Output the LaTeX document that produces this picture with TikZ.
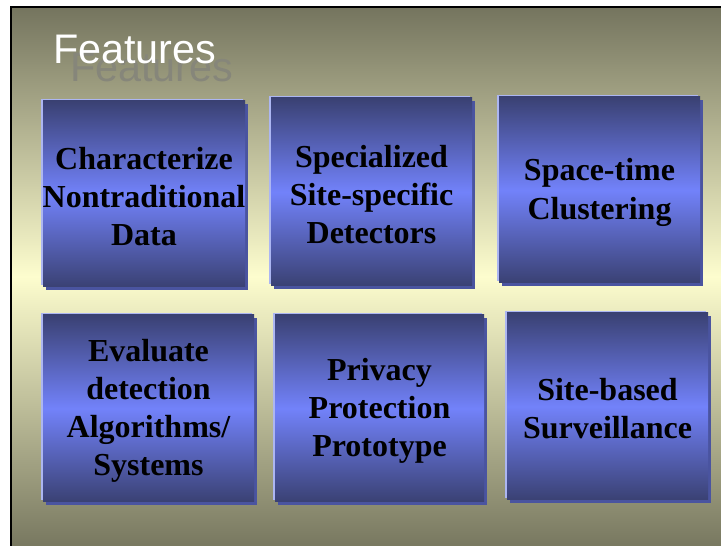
\documentclass[tikz,border=0pt]{standalone}
\usepackage{fontspec}
\setmainfont{Liberation Serif}
\newfontfamily\titlefont{Liberation Sans}
\usetikzlibrary{shadows}
\definecolor{olivedark}{RGB}{116,116,94}
\definecolor{olivebot}{RGB}{120,120,96}
\definecolor{cream}{RGB}{253,253,206}
\definecolor{boxdark}{RGB}{58,65,115}
\definecolor{boxlight}{RGB}{114,130,250}
\definecolor{boxedge}{RGB}{172,182,242}
\definecolor{boxshade}{RGB}{74,84,160}
\definecolor{titleshade}{RGB}{134,134,122}
\tikzset{
  featbox/.style={
    rectangle, inner sep=0pt, draw=none,
    top color=boxdark, bottom color=boxdark, middle color=boxlight,
    general shadow={fill=boxshade, shadow xshift=2.6pt, shadow yshift=-2.6pt},
    general shadow={fill=boxedge, shadow xshift=-1.5pt, shadow yshift=1.5pt}
  },
  boxtext/.style={
    inner sep=0pt, align=center, text=black, yshift=-1.8pt,
    font=\fontsize{24}{28.6}\selectfont\bfseries
  },
  titletext/.style={anchor=base west, inner sep=0pt,
    font=\titlefont\fontsize{31}{36}\selectfont}
}
\begin{document}
% one unit is one pixel, y measured upwards from the bottom edge
\begin{tikzpicture}[x=0.75pt, y=0.75pt]
\useasboundingbox (0,0) rectangle (721,546);
% slide background with its frame
\shade[top color=olivedark, bottom color=olivebot, middle color=cream]
  (11,0) rectangle (721,539);
\draw[line width=1.6pt, black] (11,-14) -- (11,539) -- (730,539);
% title and its shadow
\node[titletext, text=titleshade] (titleshadow) at (70,464.5) {Features};
\node[titletext, text=white] (title) at (53,482) {Features};
% feature boxes
\node[featbox, minimum width=151.5pt, minimum height=139.5pt] (b1) at (144,352) {};
\node[featbox, minimum width=150.75pt, minimum height=141pt] (b2) at (371.5,354) {};
\node[featbox, minimum width=150.75pt, minimum height=139.5pt] (b3) at (599.5,356) {};
\node[featbox, minimum width=158.25pt, minimum height=140.25pt] (b4) at (148.5,137.5) {};
\node[featbox, minimum width=156.75pt, minimum height=140.25pt] (b5) at (379.5,137.5) {};
\node[featbox, minimum width=150.75pt, minimum height=140.25pt] (b6) at (607.5,139.5) {};
% their labels
\node[boxtext] (t1) at (b1.center) {Characterize\\Nontraditional\\Data};
\node[boxtext] (t2) at (b2.center) {Specialized\\Site-specific\\Detectors};
\node[boxtext] (t3) at (b3.center) {Space-time\\Clustering};
\node[boxtext] (t4) at (b4.center) {Evaluate\\detection\\Algorithms/\\Systems};
\node[boxtext] (t5) at (b5.center) {Privacy\\Protection\\Prototype};
\node[boxtext] (t6) at (b6.center) {Site-based\\Surveillance};
\end{tikzpicture}
\end{document}
